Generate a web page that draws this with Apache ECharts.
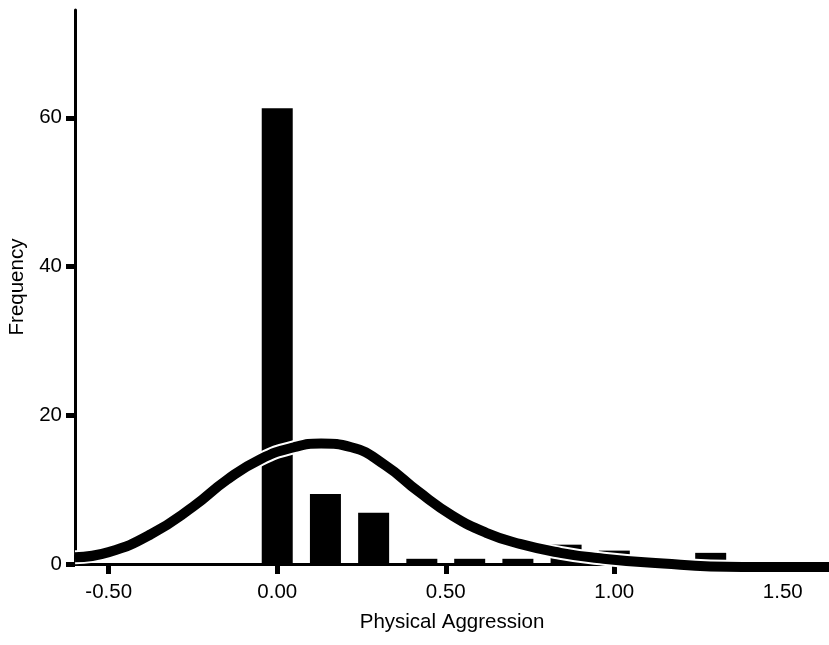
<!DOCTYPE html>
<html>
<head>
<meta charset="utf-8">
<script src="https://cdn.jsdelivr.net/npm/echarts@6/dist/echarts.min.js"></script>
<style>
  html, body { margin: 0; padding: 0; background: #fff; }
  #main { width: 829px; height: 645px; }
</style>
</head>
<body>
<div id="main"></div>
<script type="text/javascript">
    // 直方图的组中值和频数
    var binCenters = [0, 0.143, 0.286, 0.429, 0.571, 0.714, 0.857, 1.0, 1.286];
    var frequencies = [61.3, 9.4, 6.9, 0.7, 0.7, 0.7, 2.6, 1.8, 1.5];
    // 正态曲线（从图上读出的点）
    var curveX = [-0.6, -0.5, -0.375, -0.25, -0.15, -0.05, 0.05, 0.13, 0.22, 0.32, 0.42, 0.52, 0.62, 0.72, 0.84, 0.95, 1.1, 1.38, 1.637];
    var curveY = [0.9, 1.6, 4.0, 7.7, 11.3, 14.1, 15.7, 16.2, 15.7, 13.3, 9.7, 6.5, 4.2, 2.7, 1.5, 0.8, 0.2, -0.4, -0.4];
    // 刻度
    var xTicks = [-0.5, 0, 0.5, 1.0, 1.5];
    var yTicks = [0, 20, 40, 60];

    var barData = [];
    for (var i = 0; i < binCenters.length; i++) {
        barData.push([binCenters[i], frequencies[i]]);
    }
    var curveData = [];
    for (var j = 0; j < curveX.length; j++) {
        curveData.push([curveX[j], curveY[j]]);
    }

    var font = 'Liberation Sans, Arial, sans-serif';
    var myChart = echarts.init(document.getElementById('main'));

    var option = {
        backgroundColor: '#fff',
        animation: false,
        grid: { left: 75, right: 0, top: 10, bottom: 81, outerBoundsMode: 'none' },
        xAxis: {
            type: 'value',
            min: -0.6,
            max: 1.637,
            name: 'Physical Aggression',
            nameLocation: 'middle',
            nameGap: 48,
            nameTextStyle: { color: '#000', fontSize: 20.5, fontFamily: font },
            splitLine: { show: false },
            axisLine: { onZero: false, lineStyle: { color: '#000', width: 3 } },
            axisTick: {
                customValues: xTicks,
                length: 10,
                lineStyle: { color: '#000', width: 5 }
            },
            axisLabel: {
                customValues: xTicks,
                margin: 18,
                color: '#000',
                fontSize: 20.5,
                fontFamily: font,
                formatter: function (v) { return v.toFixed(2); }
            }
        },
        yAxis: {
            type: 'value',
            min: 0,
            max: 74.5,
            name: 'Frequency',
            nameLocation: 'middle',
            nameGap: 46,
            nameTextStyle: { color: '#000', fontSize: 20.5, fontFamily: font },
            splitLine: { show: false },
            axisLine: { show: true, onZero: false, lineStyle: { color: '#000', width: 3 } },
            axisTick: {
                show: true,
                customValues: yTicks,
                length: 9,
                lineStyle: { color: '#000', width: 5 }
            },
            axisLabel: {
                customValues: yTicks,
                margin: 13,
                color: '#000',
                fontSize: 20.5,
                fontFamily: font
            }
        },
        series: [
            {
                type: 'bar',
                data: barData,
                barWidth: 31,
                itemStyle: { color: '#000' }
            },
            {
                // 曲线的白边
                type: 'line',
                data: curveData,
                smooth: 0.5,
                symbol: 'none',
                clip: false,
                lineStyle: { color: '#fff', width: 14 }
            },
            {
                type: 'line',
                data: curveData,
                smooth: 0.5,
                symbol: 'none',
                clip: false,
                lineStyle: { color: '#000', width: 10 }
            }
        ]
    };
    myChart.setOption(option);
</script>
</body>
</html>
